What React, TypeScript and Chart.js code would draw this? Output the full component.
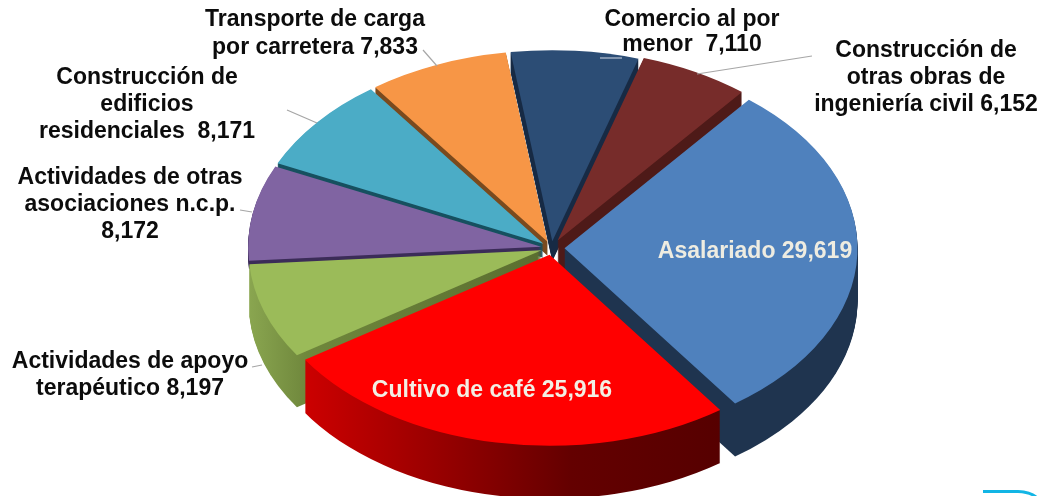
import React, { useEffect, useRef } from "react";
import { Chart, registerables } from "chart.js";

Chart.register(...registerables);

const categories = [
  "Asalariado",
  "Cultivo de café",
  "Actividades de apoyo terapéutico",
  "Actividades de otras asociaciones n.c.p.",
  "Construcción de edificios residenciales",
  "Transporte de carga por carretera",
  "Comercio al por menor",
  "Construcción de otras obras de ingeniería civil",
];
const values = [29619, 25916, 8197, 8172, 8171, 7833, 7110, 6152];
const topColors = ["#4f81bd", "#ff0000", "#9bbb59", "#8064a2", "#4bacc6", "#f79646", "#2c4d75", "#772c2a"];
const wallStops: [number, string][][] = [
  [[0, "#1f344f"], [1, "#1f344f"]],
  [[0, "#cc0000"], [0.64, "#640000"], [1, "#560000"]],
  [[0, "#8aa650"], [0.2, "#6f873c"], [1, "#5a6e30"]],
  [[0, "#3b2c58"], [1, "#3b2c58"]],
  [[0, "#16505f"], [1, "#16505f"]],
  [[0, "#7a4a1e"], [1, "#7a4a1e"]],
  [[0, "#172a44"], [1, "#172a44"]],
  [[0, "#4e1a18"], [1, "#4e1a18"]],
];
const explode = [13, 10.5, 10.5, 10.5, 10.5, 10.5, 10.5, 13];
const wallDepth = [53, 53, 52, 8, 14, 14, 20, 40];
const paintOrder = [6, 5, 7, 4, 3, 0, 2, 1];

const labelBlocks = [
  { lines: ["Transporte de carga", "por carretera 7,833"], x: 315, y: 20, gap: 28, color: "#0c0c0c" },
  { lines: ["Comercio al por", "menor  7,110"], x: 692, y: 20, gap: 25, color: "#0c0c0c" },
  { lines: ["Construcción de", "otras obras de", "ingeniería civil 6,152"], x: 926, y: 51, gap: 27, color: "#0c0c0c" },
  { lines: ["Construcción de", "edificios", "residenciales  8,171"], x: 147, y: 78, gap: 27, color: "#0c0c0c" },
  { lines: ["Actividades de otras", "asociaciones n.c.p.", "8,172"], x: 130, y: 178, gap: 27, color: "#0c0c0c" },
  { lines: ["Actividades de apoyo", "terapéutico 8,197"], x: 130, y: 362, gap: 27, color: "#0c0c0c" },
  { lines: ["Asalariado 29,619"], x: 755, y: 252, gap: 0, color: "#eeece1" },
  { lines: ["Cultivo de café 25,916"], x: 492, y: 391, gap: 0, color: "#f2efe4" },
];
const leaders = [
  [287, 110, 317, 123],
  [423, 50, 437, 66],
  [240, 210, 252, 212],
  [697, 74, 812, 56],
  [252, 367, 262, 365],
];

const CX = 551.5;
const CY = 248;
const RX = 293;
const RY = 191;

const pie3d = {
  id: "pie3d",
  beforeDatasetDraw(chart: any) {
    const ctx = chart.ctx;
    const arcs = chart.getDatasetMeta(0).data;
    paintOrder.forEach((i) => {
      const el = arcs[i];
      const mid = (el.startAngle + el.endAngle) / 2;
      const sx = CX + Math.cos(mid) * explode[i];
      const sy = CY + Math.sin(mid) * explode[i] * (RY / RX);
      const x0 = sx + Math.cos(el.startAngle) * RX;
      const x1 = sx + Math.cos(el.endAngle) * RX;
      const gx0 = i === 1 ? Math.min(x0, x1) : sx - RX;
      const gx1 = i === 1 ? Math.max(x0, x1) : sx;
      const g = ctx.createLinearGradient(gx0, 0, gx1, 0);
      wallStops[i].forEach(([p, c]) => g.addColorStop(p, c));
      ctx.save();
      ctx.fillStyle = g;
      for (let d = wallDepth[i]; d >= 1; d--) {
        ctx.beginPath();
        ctx.moveTo(sx, sy + d);
        ctx.ellipse(sx, sy + d, RX, RY, 0, el.startAngle, el.endAngle);
        ctx.closePath();
        ctx.fill();
      }
      ctx.restore();
      ctx.save();
      ctx.translate(sx, sy);
      ctx.scale(RX / el.outerRadius, RY / el.outerRadius);
      ctx.translate(-el.x, -el.y);
      el.draw(ctx, chart.chartArea);
      ctx.restore();
    });
    return false;
  },
  afterDraw(chart: any) {
    const ctx = chart.ctx;
    ctx.save();
    ctx.strokeStyle = "#a6a6a6";
    ctx.lineWidth = 1.2;
    leaders.forEach(([a, b, c, d]) => {
      ctx.beginPath();
      ctx.moveTo(a, b);
      ctx.lineTo(c, d);
      ctx.stroke();
    });
    ctx.strokeStyle = "#7f93ad";
    ctx.lineWidth = 2;
    ctx.beginPath();
    ctx.moveTo(600, 58);
    ctx.lineTo(622, 58);
    ctx.stroke();
    ctx.strokeStyle = "#12b5e5";
    ctx.lineWidth = 3;
    ctx.beginPath();
    ctx.moveTo(983, 491.5);
    ctx.lineTo(1018, 491.5);
    ctx.quadraticCurveTo(1030, 492, 1036, 497);
    ctx.stroke();
    ctx.font = 'bold 23px "Liberation Sans"';
    ctx.textAlign = "center";
    ctx.textBaseline = "middle";
    labelBlocks.forEach((b) => {
      ctx.fillStyle = b.color;
      b.lines.forEach((t, k) => ctx.fillText(t, b.x, b.y + k * b.gap));
    });
    ctx.restore();
  },
};

export default function App() {
  const ref = useRef<HTMLCanvasElement>(null);
  useEffect(() => {
    document.body.style.margin = "0";
    document.body.style.background = "#ffffff";
    const chart = new Chart(ref.current as HTMLCanvasElement, {
      type: "pie",
      data: {
        labels: categories,
        datasets: [{ data: values, backgroundColor: topColors, borderWidth: 0 }],
      },
      options: {
        animation: false,
        responsive: false,
        devicePixelRatio: 1,
        rotation: 39,
        layout: { padding: 0 },
        plugins: { legend: { display: false }, tooltip: { enabled: false } },
      },
      plugins: [pie3d],
    } as any);
    return () => chart.destroy();
  }, []);
  return <canvas ref={ref} width={1042} height={496} style={{ display: "block" }} />;
}
